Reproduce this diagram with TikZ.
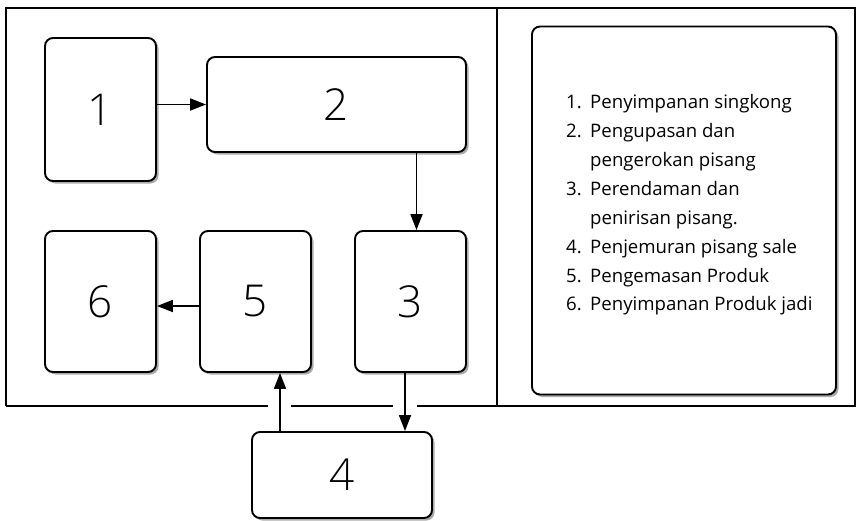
\documentclass[tikz,border=0pt]{standalone}
\usepackage{fontspec}
\setmainfont{Open Sans}
\newfontfamily\digitfont{Open Sans}[UprightFont=* Light]
\usetikzlibrary{arrows.meta,shadows}
\tikzset{
	stepbox/.style={draw, line width=1.9pt, rounded corners=8pt, fill=white,
		drop shadow={shadow xshift=2.5pt, shadow yshift=-2.5pt, fill=black!55, opacity=.6},
		inner sep=0pt, font=\digitfont\fontsize{44}{44}\selectfont},
	arr/.style={line width=1.8pt, -{Triangle[length=16pt,width=12pt]}}
}
\begin{document}
\begin{tikzpicture}[x=1pt, y=-1pt]
	\useasboundingbox (0,0) rectangle (859,520);
	%frame
	\draw[line width=2.4pt] (6,406) -- (6,8) -- (855,8) -- (855,406) -- (417,406)
	(393,406) -- (291,406)
	(268,406) -- (6,406);
	\draw[line width=2.4pt] (497,8) -- (497,406);
	%boxes
	\node[stepbox, minimum width=111pt, minimum height=143pt] (b1) at (100.5,109.5) {1};
	\node[stepbox, minimum width=259pt, minimum height=95pt] (b2) at (336.5,104.5) {2};
	\node[stepbox, minimum width=111pt, minimum height=141pt] (b3) at (410.5,301.5) {3};
	\node[stepbox, minimum width=111pt, minimum height=141pt] (b5) at (255.5,301.5) {5};
	\node[stepbox, minimum width=111pt, minimum height=141pt] (b6) at (100.5,301.5) {6};
	\node[stepbox, minimum width=180pt, minimum height=86pt] (b4) at (342,475) {4};
	%legend
	\node[stepbox, minimum width=304pt, minimum height=368pt] (legend) at (684,210.5) {};
	\node[anchor=west, align=left, inner sep=0pt, font=\fontsize{18.6}{28.9}\selectfont]
	(list) at (566,205)
	{
		\makebox[24pt][l]{1.}Penyimpanan singkong\\
		\makebox[24pt][l]{2.}Pengupasan dan\\
		\makebox[24pt][l]{}pengerokan pisang\\
		\makebox[24pt][l]{3.}Perendaman dan\\
		\makebox[24pt][l]{}penirisan pisang.\\
		\makebox[24pt][l]{4.}Penjemuran pisang sale\\
		\makebox[24pt][l]{5.}Pengemasan Produk\\
		\makebox[24pt][l]{6.}Penyimpanan Produk jadi
	};
	%arrows
	\draw[arr] (b1.east |- b2.west) -- (b2.west);
	\draw[arr] ([xshift=6pt]b3.north |- b2.south) -- ([xshift=6pt]b3.north);
	\draw[arr] ([xshift=-5.5pt]b3.south) -- ([xshift=-5.5pt]b3.south |- b4.north);
	\draw[arr] ([xshift=24.5pt]b5.south |- b4.north) -- ([xshift=24.5pt]b5.south);
	\draw[arr] ([yshift=-4.5pt]b5.west) -- ([yshift=-4.5pt]b6.east);
\end{tikzpicture}
\end{document}
